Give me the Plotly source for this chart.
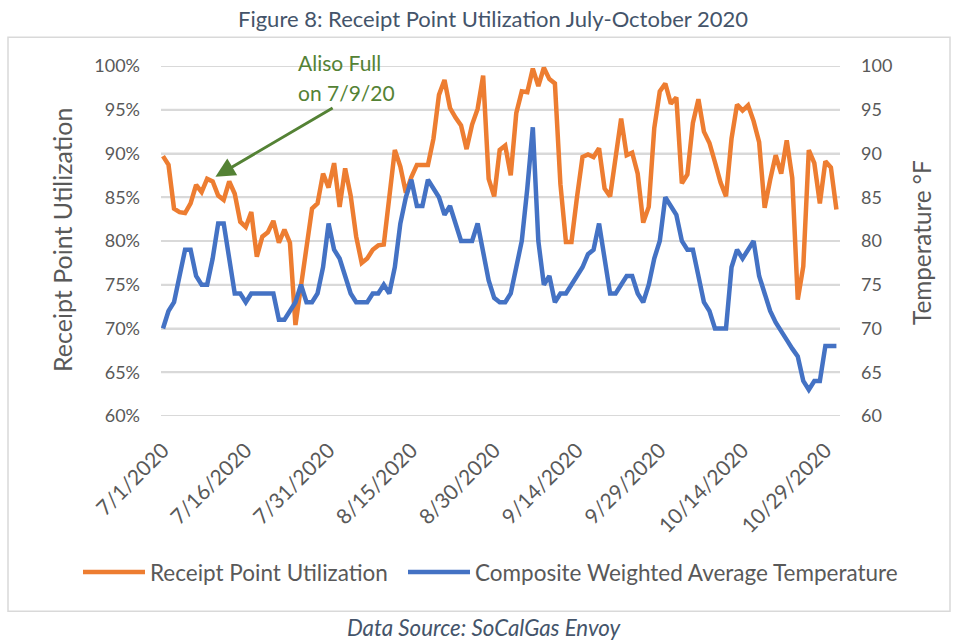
import pandas as pd
import plotly.graph_objects as go

dates = pd.date_range("2020-07-01", "2020-10-31", freq="D")

utilization = [
    89.7, 88.7, 83.7, 83.3, 83.2, 84.3, 86.4, 85.6, 87.1, 86.8,
    85.2, 84.7, 86.8, 85.4, 82.2, 81.6, 83.3, 78.2, 80.5, 81.0,
    82.3, 79.8, 81.3, 79.8, 70.4, 75.0, 80.0, 83.7, 84.3, 87.7,
    86.1, 88.9, 83.9, 88.3, 85.2, 80.5, 77.5, 78.0, 79.0, 79.5,
    79.6, 85.3, 90.4, 88.5, 85.5, 87.3, 88.7, 88.7, 88.7, 91.7,
    96.7, 98.4, 95.2, 94.1, 93.2, 90.5, 93.3, 95.1, 98.9, 87.1,
    85.1, 90.4, 90.9, 87.5, 94.6, 97.1, 97.0, 99.7, 97.7, 99.8,
    98.5, 98.0, 86.5, 79.9, 79.9, 85.0, 89.6, 89.9, 89.6, 90.6,
    86.0, 85.1, 89.2, 94.0, 89.8, 90.1, 87.7, 82.1, 83.9, 92.9,
    97.1, 98.0, 95.7, 96.4, 86.6, 87.6, 93.5, 96.2, 92.5, 91.2,
    89.0, 86.7, 85.1, 91.7, 95.6, 94.9, 95.5, 93.7, 91.3, 83.8,
    87.0, 89.8, 87.7, 91.5, 87.2, 73.3, 77.1, 90.4, 88.9, 84.3,
    89.1, 88.4, 83.6,
]

temperature = [
    70, 72, 73, 76, 79, 79, 76, 75, 75, 78,
    82, 82, 78, 74, 74, 73, 74, 74, 74, 74,
    74, 71, 71, 72, 73, 75, 73, 73, 74, 77,
    82, 79, 78, 76, 74, 73, 73, 73, 74, 74,
    75, 74, 77, 82, 85, 87, 84, 84, 87, 86,
    85, 83, 84, 82, 80, 80, 80, 82, 79, 75.5,
    73.5, 73, 73, 74, 77, 80, 86, 93, 80, 75,
    76, 73, 74, 74, 75, 76, 77, 78.5, 79, 82,
    78, 74, 74, 75, 76, 76, 74, 73, 75, 78,
    80, 85, 84, 83, 80, 79, 79, 76, 73, 72,
    70, 70, 70, 77, 79, 78, 79, 80, 76, 74,
    72, 70.7, 69.8, 68.7, 67.7, 66.8, 64, 63, 64, 64,
    68, 68, 68,
]

tick_dates = ["2020-07-01", "2020-07-16", "2020-07-31", "2020-08-15", "2020-08-30",
              "2020-09-14", "2020-09-29", "2020-10-14", "2020-10-29"]
tick_text = ["7/1/2020", "7/16/2020", "7/31/2020", "8/15/2020", "8/30/2020",
             "9/14/2020", "9/29/2020", "10/14/2020", "10/29/2020"]
left_ticks = [60, 65, 70, 75, 80, 85, 90, 95, 100]
left_text = ["60%", "65%", "70%", "75%", "80%", "85%", "90%", "95%", "100%"]
right_ticks = [60, 65, 70, 75, 80, 85, 90, 95, 100]
right_text = ["60", "65", "70", "75", "80", "85", "90", "95", "100"]

FONT = "Lato"
GREY = "#595959"
TITLE_C = "#44546A"
GREEN = "#548235"
GRID = "#D9D9D9"

fig = go.Figure()
fig.add_trace(go.Scatter(x=dates, y=utilization, mode="lines",
                         name="Receipt Point Utilization", legend="legend",
                         line=dict(color="#ED7D31", width=4.5)))
fig.add_trace(go.Scatter(x=dates, y=temperature, mode="lines",
                         name="Composite Weighted Average Temperature", legend="legend2",
                         line=dict(color="#4472C4", width=4.5), yaxis="y2"))

W, H = 958, 642
L, R, T, B = 161, 840, 65.7, 416.3
pw, ph = R - L, B - T

def px(x):
    return (x - L) / pw

def py(y):
    return (B - y) / ph

leg_common = dict(orientation="h", yanchor="middle", xanchor="left",
                  font=dict(size=22.5, color=GREY), itemwidth=62,
                  bgcolor="rgba(0,0,0,0)", borderwidth=0)

# horizontal gridlines at the left-axis tick values, beneath the data lines
grid_shapes = [dict(type="line", xref="paper", x0=0, x1=1, yref="y", y0=v, y1=v,
                    line=dict(color=GRID, width=2), layer="between")
               for v in left_ticks]

fig.update_layout(
    template="none",
    width=W, height=H,
    margin=dict(l=L, r=W - R, t=T, b=H - B, pad=0),
    paper_bgcolor="white", plot_bgcolor="rgba(0,0,0,0)",
    font=dict(family=FONT, color=GREY, size=17),
    showlegend=True,
    legend=dict(x=px(78), y=py(573), **leg_common),
    legend2=dict(x=px(403), y=py(573), **leg_common),
    xaxis=dict(
        type="date",
        range=["2020-06-30 15:22", "2020-10-31 15:36"],
        tickmode="array", tickvals=tick_dates, ticktext=tick_text, tickangle=-45,
        showgrid=False, zeroline=False, showline=False, ticks="",
        tickfont=dict(size=21, color=GREY), ticklabelstandoff=17,
    ),
    yaxis=dict(
        range=[60, 100], tickmode="array", tickvals=left_ticks, ticktext=left_text,
        showgrid=True, gridcolor=GRID, gridwidth=2,
        zeroline=False, showline=False, ticks="",
        tickfont=dict(size=18, color=GREY), ticklabelstandoff=20,
    ),
    yaxis2=dict(
        range=[60, 100], tickmode="array", tickvals=right_ticks, ticktext=right_text,
        overlaying="y", side="right",
        showgrid=False, zeroline=False, showline=False, ticks="",
        tickfont=dict(size=18, color=GREY), ticklabelstandoff=20,
    ),
    shapes=grid_shapes + [dict(type="rect", xref="paper", yref="paper",
                 x0=px(8), x1=px(950), y0=py(612), y1=py(37),
                 line=dict(color=GRID, width=1.5), fillcolor="rgba(0,0,0,0)",
                 layer="above")],
)

fig.add_annotation(text="Figure 8: Receipt Point Utilization July-October 2020",
                   xref="paper", yref="paper", x=px(493), y=py(18), showarrow=False,
                   xanchor="center", yanchor="middle", font=dict(size=22, color=TITLE_C))
fig.add_annotation(text="<i>Data Source: SoCalGas Envoy</i>",
                   xref="paper", yref="paper", x=px(484.5), y=py(628), showarrow=False,
                   xanchor="center", yanchor="middle", font=dict(size=22.3, color=TITLE_C))
fig.add_annotation(text="Receipt Point Utilization", textangle=-90,
                   xref="paper", yref="paper", x=px(62), y=py(240), showarrow=False,
                   xanchor="center", yanchor="middle", font=dict(size=25, color=GREY))
fig.add_annotation(text="Temperature °F", textangle=-90,
                   xref="paper", yref="paper", x=px(922), y=py(243), showarrow=False,
                   xanchor="center", yanchor="middle", font=dict(size=24.3, color=GREY))
fig.add_annotation(text="Aliso Full", xref="paper", yref="paper",
                   x=px(296), y=py(62), showarrow=False, xanchor="left", yanchor="middle",
                   font=dict(size=21, color=GREEN))
fig.add_annotation(text="on 7/9/20", xref="paper", yref="paper",
                   x=px(296), y=py(92), showarrow=False, xanchor="left", yanchor="middle",
                   font=dict(size=21, color=GREEN))
fig.add_annotation(text="", x="2020-07-10 12:00", y=87.34, xref="x", yref="y",
                   ax=118.7, ay=-69.7, showarrow=True, arrowhead=2, arrowsize=1.3,
                   arrowwidth=3, arrowcolor=GREEN, standoff=0)

fig.write_html("out.html", config={"displayModeBar": False},
               post_script="document.body.style.margin='0px';")
